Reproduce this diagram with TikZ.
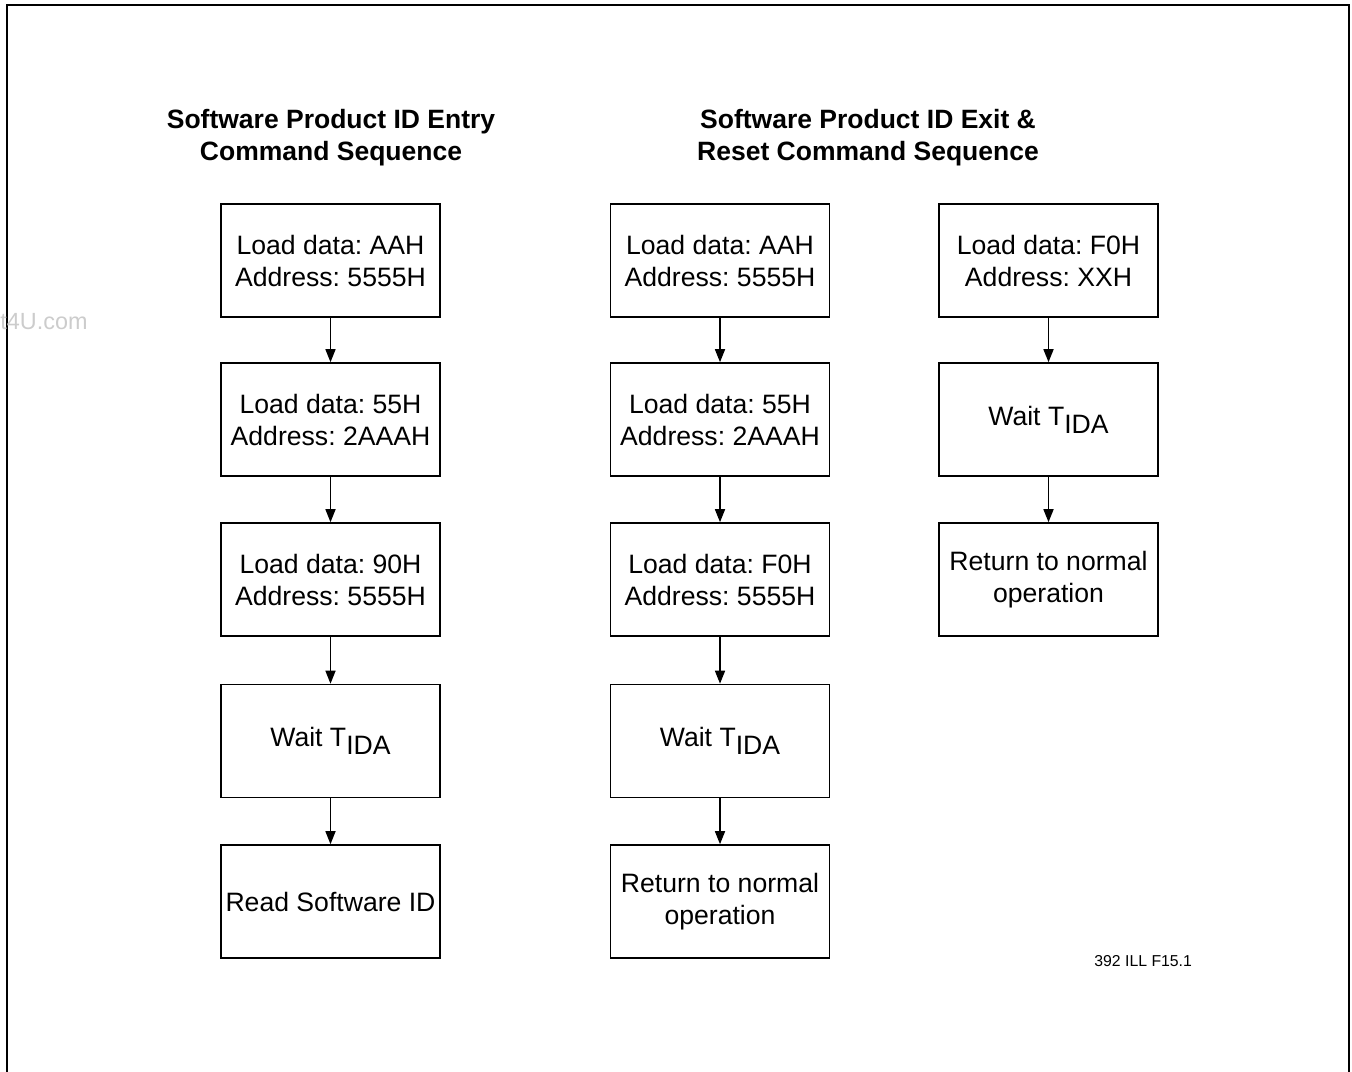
\documentclass[tikz,border=0pt]{standalone}
\usepackage{fontspec}
\setmainfont{Liberation Sans}
\usetikzlibrary{arrows.meta}
\frenchspacing
\begin{document}
\begin{tikzpicture}[x=0.5pt,y=-0.5pt,
  box/.style={draw,line width=0.8pt,minimum width=109.5pt,minimum height=56.5pt,inner sep=0pt,align=center,font=\fontsize{13.3}{16}\selectfont},
  ttl/.style={align=center,font=\bfseries\fontsize{13.25}{16}\selectfont},
  arr/.style={line width=0.75pt,-{Triangle[length=6.5pt,width=5pt]}}]
\useasboundingbox (0,0) rectangle (1352,1071);
\draw[line width=1pt] (7,1080) -- (7,5) -- (1349,5) -- (1349,1080);
\node[anchor=base east,text=black!20,font=\fontsize{11.7}{13}\selectfont,inner sep=0pt] (wm) at (88,329) {t4U.com};
\newcommand{\tida}{Wait T\raisebox{-0.3em}{IDA}}
% titles
\node[ttl] (t1) at (331,138) {Software Product ID Entry\\Command Sequence};
\node[ttl] (t2) at (868,138) {Software Product ID Exit \&\\Reset Command Sequence};
% column 1
\node[box] (a1) at (330.5,260.5) {Load data: AAH\\Address: 5555H};
\node[box] (a2) at (330.5,419.5) {Load data: 55H\\Address: 2AAAH};
\node[box] (a3) at (330.5,579.5) {Load data: 90H\\Address: 5555H};
\node[box] (a4) at (330.5,741) {\tida};
\node[box] (a5) at (330.5,901.5) {Read Software ID};
% column 2
\node[box] (b1) at (720,260.5) {Load data: AAH\\Address: 5555H};
\node[box] (b2) at (720,419.5) {Load data: 55H\\Address: 2AAAH};
\node[box] (b3) at (720,579.5) {Load data: F0H\\Address: 5555H};
\node[box] (b4) at (720,741) {\tida};
\node[box] (b5) at (720,901.5) {Return to normal\\operation};
% column 3
\node[box] (c1) at (1048.5,260.5) {Load data: F0H\\Address: XXH};
\node[box] (c2) at (1048.5,419.5) {\tida};
\node[box] (c3) at (1048.5,579.5) {Return to normal\\operation};
\foreach \p/\q in {a1/a2,a2/a3,a3/a4,a4/a5,b1/b2,b2/b3,b3/b4,b4/b5,c1/c2,c2/c3}
  \draw[arr] (\p.south) -- (\q.north);
\node[font=\fontsize{7.9}{9}\selectfont,anchor=base west,inner sep=0pt] (lbl) at (1094,966) {392 ILL F15.1};
\end{tikzpicture}
\end{document}
